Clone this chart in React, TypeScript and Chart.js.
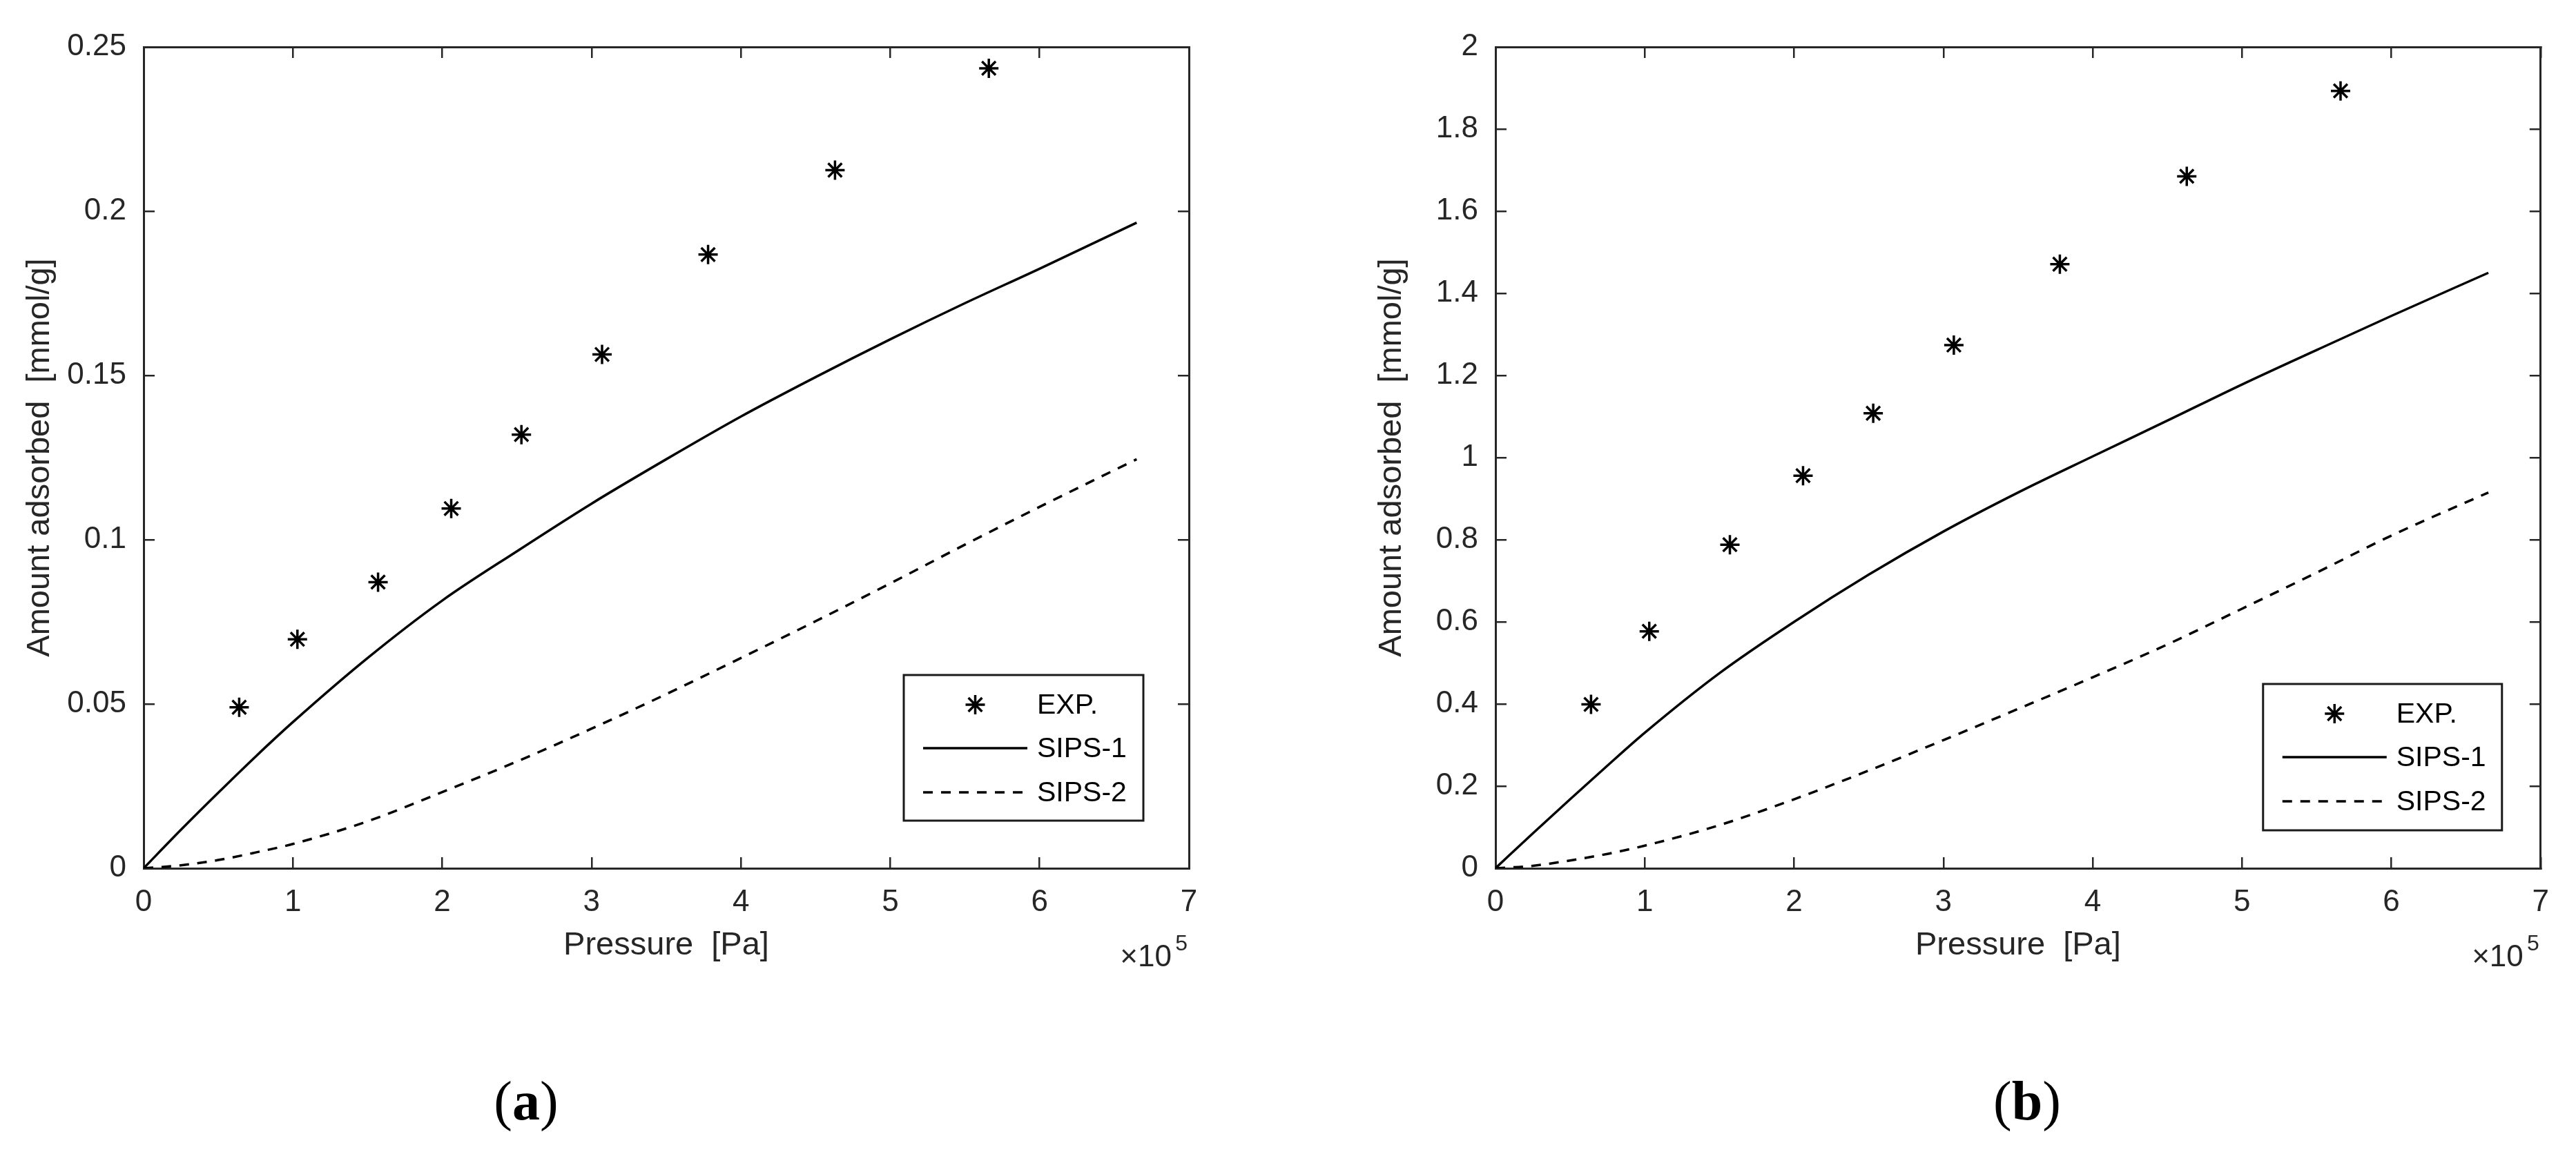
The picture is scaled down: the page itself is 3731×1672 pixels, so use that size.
import * as React from 'react';
import { Chart, registerables } from 'chart.js';

Chart.register(...registerables);

const FONT = "'Liberation Sans', Arial, Helvetica, sans-serif";
const SERIF = "'Liberation Serif', 'Times New Roman', serif";
const TEXT = '#262626';
const INK = '#000000';

// measured points, pressure in Pa
const EXP_PRESSURE = [64000, 103000, 157000, 206000, 253000, 307000, 378000, 463000, 566000];
const EXP_A = [0.049, 0.0697, 0.0871, 0.1095, 0.132, 0.1564, 0.1868, 0.2125, 0.2435];
const EXP_B = [0.399, 0.577, 0.788, 0.956, 1.108, 1.274, 1.471, 1.685, 1.893];

const MODEL_PRESSURE = [0, 25000, 50000, 75000, 100000, 150000, 200000, 250000, 300000, 350000, 400000, 450000, 500000, 550000, 600000, 665000];
const SIPS1_A = [0, 0.0117, 0.023, 0.034, 0.0445, 0.064, 0.0815, 0.0965, 0.111, 0.1245, 0.1375, 0.1495, 0.161, 0.172, 0.1825, 0.1965];
const SIPS2_A = [0, 0.0009, 0.0025, 0.0048, 0.0074, 0.0143, 0.0232, 0.0325, 0.0425, 0.053, 0.064, 0.0752, 0.0867, 0.0985, 0.11, 0.1245];
const SIPS1_B = [0, 0.085, 0.168, 0.25, 0.33, 0.475, 0.6, 0.715, 0.82, 0.915, 1.003, 1.09, 1.178, 1.262, 1.345, 1.45];
const SIPS2_B = [0, 0.006, 0.019, 0.035, 0.055, 0.105, 0.168, 0.238, 0.312, 0.388, 0.465, 0.545, 0.632, 0.72, 0.81, 0.915];

// axis ticks
const X_TICKS = [0, 100000, 200000, 300000, 400000, 500000, 600000, 700000];
const X_LABELS = ['0', '1', '2', '3', '4', '5', '6', '7'];
const Y_TICKS_A = [0, 0.05, 0.1, 0.15, 0.2, 0.25];
const Y_LABELS_A = ['0', '0.05', '0.1', '0.15', '0.2', '0.25'];
const Y_TICKS_B = [0, 0.2, 0.4, 0.6, 0.8, 1, 1.2, 1.4, 1.6, 1.8, 2];
const Y_LABELS_B = ['0', '0.2', '0.4', '0.6', '0.8', '1', '1.2', '1.4', '1.6', '1.8', '2'];

const SERIES_LABELS = ['EXP.', 'SIPS-1', 'SIPS-2'];

const CANVAS_H = 1440;
const LEGEND_ROWS = [43, 106, 170];

type PanelDef = {
  tag: string;
  tagX: number;
  left: number;
  width: number;
  padRight: number;
  exp: number[];
  sips1: number[];
  sips2: number[];
  yMax: number;
  yTicks: number[];
  yLabels: string[];
  legend: { right: number; bottom: number; width: number; height: number };
};

const PANELS: PanelDef[] = [
  {
    tag: 'a', tagX: 762, left: 0, width: 1800, padRight: 78,
    exp: EXP_A, sips1: SIPS1_A, sips2: SIPS2_A,
    yMax: 0.25, yTicks: Y_TICKS_A, yLabels: Y_LABELS_A,
    legend: { right: 66, bottom: 69, width: 347, height: 211 },
  },
  {
    tag: 'b', tagX: 2936, left: 1958, width: 1773, padRight: 51,
    exp: EXP_B, sips1: SIPS1_B, sips2: SIPS2_B,
    yMax: 2, yTicks: Y_TICKS_B, yLabels: Y_LABELS_B,
    legend: { right: 56, bottom: 55, width: 346, height: 212 },
  },
];

function drawStar(ctx: CanvasRenderingContext2D, x: number, y: number, r: number) {
  ctx.beginPath();
  for (let k = 0; k < 4; k++) {
    const a = (k * Math.PI) / 4;
    const dx = Math.cos(a) * r;
    const dy = Math.sin(a) * r;
    ctx.moveTo(x - dx, y - dy);
    ctx.lineTo(x + dx, y + dy);
  }
  ctx.stroke();
}

// MATLAB-style boxed legend inside the axes, plus the x10^5 multiplier
const matlabExtras = {
  id: 'matlabExtras',
  afterDraw(chart: any, _args: any, opts: any) {
    const { ctx, chartArea } = chart;
    const right = chartArea.right - opts.right;
    const bottom = chartArea.bottom - opts.bottom;
    const left = right - opts.width;
    const top = bottom - opts.height;
    ctx.save();
    ctx.fillStyle = '#ffffff';
    ctx.fillRect(left, top, opts.width, opts.height);
    ctx.lineWidth = 3;
    ctx.strokeStyle = '#1a1a1a';
    ctx.strokeRect(left, top, opts.width, opts.height);

    ctx.font = `41px ${FONT}`;
    ctx.textBaseline = 'middle';
    ctx.textAlign = 'left';
    chart.data.datasets.forEach((ds: any, i: number) => {
      const y = top + LEGEND_ROWS[i];
      const x1 = left + 28;
      const x2 = left + 179;
      ctx.strokeStyle = INK;
      ctx.lineWidth = 3.5;
      if (ds.showLine) {
        ctx.setLineDash(ds.borderDash || []);
        ctx.beginPath();
        ctx.moveTo(x1, y);
        ctx.lineTo(x2, y);
        ctx.stroke();
        ctx.setLineDash([]);
      } else {
        drawStar(ctx, (x1 + x2) / 2, y, ds.pointRadius);
      }
      ctx.fillStyle = INK;
      ctx.fillText(ds.label, left + 193, y + 2);
    });

    ctx.fillStyle = TEXT;
    ctx.textAlign = 'right';
    ctx.textBaseline = 'alphabetic';
    ctx.font = `32px ${FONT}`;
    ctx.fillText('5', chartArea.right - 2, chartArea.bottom + 119);
    ctx.font = `44px ${FONT}`;
    ctx.fillText('\u00d710', chartArea.right - 25, chartArea.bottom + 142);
    ctx.restore();
  },
};

function Panel({ def }: { def: PanelDef }) {
  const canvasRef = React.useRef<HTMLCanvasElement | null>(null);

  React.useEffect(() => {
    if (!canvasRef.current) return;

    const tickFont = { family: FONT, size: 44 };
    const titleFont = { family: FONT, size: 47 };
    const grid = { drawOnChartArea: false, drawTicks: true, tickLength: -16, lineWidth: 2.5, color: TEXT };
    const border = { display: true, color: TEXT, width: 3 };
    const xTicks = (axis: any) => { axis.ticks = X_TICKS.map((v) => ({ value: v })); };
    const yTicks = (axis: any) => { axis.ticks = def.yTicks.map((v) => ({ value: v })); };

    const chart = new Chart(canvasRef.current, {
      type: 'scatter',
      data: {
        datasets: [
          {
            label: SERIES_LABELS[0],
            data: EXP_PRESSURE.map((x, i) => ({ x, y: def.exp[i] })),
            showLine: false,
            pointStyle: 'star',
            pointRadius: 14,
            pointBorderWidth: 3.5,
            pointBorderColor: INK,
            pointBackgroundColor: INK,
          },
          {
            label: SERIES_LABELS[1],
            data: MODEL_PRESSURE.map((x, i) => ({ x, y: def.sips1[i] })),
            showLine: true,
            borderColor: INK,
            borderWidth: 3.5,
            pointRadius: 0,
            cubicInterpolationMode: 'monotone',
          },
          {
            label: SERIES_LABELS[2],
            data: MODEL_PRESSURE.map((x, i) => ({ x, y: def.sips2[i] })),
            showLine: true,
            borderColor: INK,
            borderWidth: 3.5,
            borderDash: [14, 12],
            pointRadius: 0,
            cubicInterpolationMode: 'monotone',
          },
        ],
      } as any,
      options: {
        animation: false,
        responsive: true,
        maintainAspectRatio: false,
        events: [],
        layout: { autoPadding: false, padding: { left: 0, top: 68, right: def.padRight, bottom: 32 } },
        plugins: {
          legend: { display: false },
          tooltip: { enabled: false },
          matlabExtras: def.legend,
        } as any,
        scales: {
          x: {
            type: 'linear',
            position: 'bottom',
            min: 0,
            max: 700000,
            afterBuildTicks: xTicks,
            afterFit: (axis: any) => { axis.height = 150; },
            ticks: {
              callback: (_v: any, i: number) => X_LABELS[i],
              padding: 39,
              maxRotation: 0,
              autoSkip: false,
              font: tickFont,
              color: TEXT,
            },
            grid,
            border,
            title: {
              display: true,
              text: 'Pressure  [Pa]',
              font: titleFont,
              color: TEXT,
              padding: { top: 0, bottom: 10 },
            },
          },
          x2: {
            type: 'linear',
            position: 'top',
            min: 0,
            max: 700000,
            afterBuildTicks: xTicks,
            afterFit: (axis: any) => { axis.height = 0; },
            ticks: { display: false },
            grid,
            border,
          },
          y: {
            type: 'linear',
            position: 'left',
            min: 0,
            max: def.yMax,
            afterBuildTicks: yTicks,
            afterFit: (axis: any) => { axis.width = 208; },
            ticks: {
              callback: (_v: any, i: number) => def.yLabels[i],
              padding: 41,
              autoSkip: false,
              font: tickFont,
              color: TEXT,
            },
            grid,
            border,
            title: {
              display: true,
              text: 'Amount adsorbed  [mmol/g]',
              font: titleFont,
              color: TEXT,
              padding: { top: 30, bottom: 0 },
            },
          },
          y2: {
            type: 'linear',
            position: 'right',
            min: 0,
            max: def.yMax,
            afterBuildTicks: yTicks,
            afterFit: (axis: any) => { axis.width = 0; },
            ticks: { display: false },
            grid,
            border,
          },
        } as any,
      },
      plugins: [matlabExtras],
    });

    return () => chart.destroy();
  }, [def]);

  return (
    <>
      <div style={{ position: 'absolute', left: def.left, top: 0, width: def.width, height: CANVAS_H }}>
        <canvas ref={canvasRef} />
      </div>
      <div
        style={{
          position: 'absolute',
          left: def.tagX - 100,
          top: 1555,
          width: 200,
          textAlign: 'center',
          fontFamily: SERIF,
          fontSize: 80,
          lineHeight: 1,
          color: INK,
        }}
      >
        (<b>{def.tag}</b>)
      </div>
    </>
  );
}

export default function App() {
  return (
    <div
      style={{
        position: 'absolute',
        left: 0,
        top: 0,
        width: 3731,
        height: 1672,
        background: '#ffffff',
        overflow: 'hidden',
      }}
    >
      {PANELS.map((p) => (
        <Panel key={p.tag} def={p} />
      ))}
    </div>
  );
}
